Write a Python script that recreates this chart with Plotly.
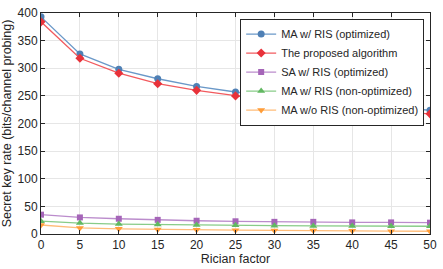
import plotly.graph_objects as go

rician = [0, 5, 10, 15, 20, 25, 30, 35, 40, 45, 50]
ma_ris_opt = [393, 326, 298, 281, 267, 257, 248.5, 241, 235, 229, 224]
proposed = [384, 318, 291, 272, 260, 250, 241, 234, 228, 222, 217.5]
sa_ris_opt = [35, 30, 27.6, 25.6, 24, 23, 22, 22, 21, 21, 20.5]
ma_ris_nonopt = [23.3, 19.8, 18, 17, 16.3, 15.7, 15, 14.6, 14.5, 14, 14]
ma_noris_nonopt = [16.3, 11, 9.3, 8.2, 7.6, 7, 6.4, 6.4, 5.8, 5.2, 5]

series = [
    ("MA w/ RIS (optimized)", ma_ris_opt, "#6a98c8", "#4f80b5", "circle", 7),
    ("The proposed algorithm", proposed, "#f25a5e", "#e8323a", "diamond", 7),
    ("SA w/ RIS (optimized)", sa_ris_opt, "#bb8ccc", "#a565b8", "square", 6),
    ("MA w/ RIS (non-optimized)", ma_ris_nonopt, "#88cc88", "#62b862", "triangle-up", 7),
    ("MA w/o RIS (non-optimized)", ma_noris_nonopt, "#ffbc78", "#ff9d38", "triangle-down", 7),
]

fig = go.Figure()
for name, ys, lc, mc, sym, sz in series:
    fig.add_trace(go.Scatter(
        x=rician, y=ys, name=name, mode="lines+markers",
        line=dict(color=lc, width=1.3),
        marker=dict(symbol=sym, size=sz, color=mc, line=dict(width=0)),
    ))

axis_common = dict(
    showline=True, linecolor="#262626", linewidth=1, mirror="ticks",
    ticks="inside", ticklen=4, tickcolor="#262626",
    showgrid=True, gridcolor="#e6e6e6", gridwidth=1, zeroline=False,
    tickfont=dict(family="Liberation Sans, Arial", size=12, color="#262626"),
)

fig.update_layout(
    width=443, height=269,
    margin=dict(l=41, r=10, t=6, b=35),
    paper_bgcolor="white", plot_bgcolor="white",
    font=dict(family="Liberation Sans, Arial", color="#262626"),
    xaxis=dict(range=[0, 50], tickvals=rician,
               title=dict(text="Rician factor", font=dict(size=12.5), standoff=2),
               **axis_common),
    yaxis=dict(range=[0, 400], tickvals=[0, 50, 100, 150, 200, 250, 300, 350, 400],
               title=dict(text="Secret key rate (bits/channel probing)", font=dict(size=12.5), standoff=3),
               **axis_common),
    legend=dict(x=0.985, y=0.975, xanchor="right", yanchor="top",
                bgcolor="white", bordercolor="#262626", borderwidth=1,
                font=dict(size=11, color="#262626"),
                tracegroupgap=0, itemwidth=30),
    showlegend=True,
)

fig.write_html("out.html", config={"displayModeBar": False},
               post_script="document.body.style.margin='0px';document.body.style.overflow='hidden';")
